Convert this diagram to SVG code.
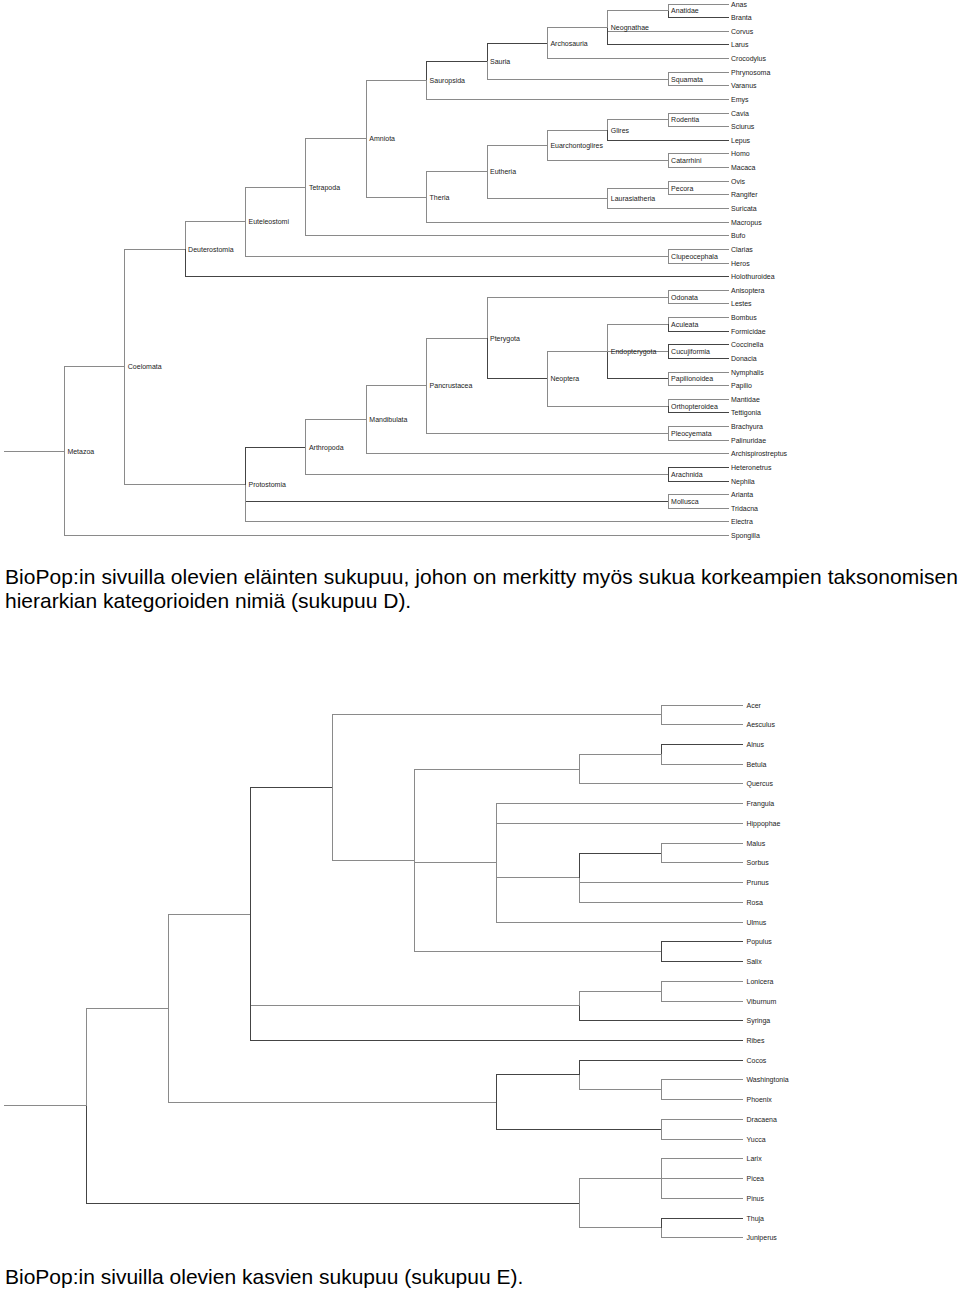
<svg xmlns="http://www.w3.org/2000/svg" width="960" height="1292" viewBox="0 0 960 1292">
<style>
.c path{fill:none;stroke:#8a8a8a;stroke-width:1;shape-rendering:crispEdges}
.c path.d{stroke:#444}
text{font-family:"Liberation Sans",Arial,sans-serif;fill:#222}
.n text{font-size:7px}
.cap{font-size:21px;fill:#000}
</style>
<rect width="960" height="1292" fill="#fff"/>
<g id="connectors" class="c">
<!-- top tree -->
<path d="M4 451.2H64.4"/>
<path d="M64.4 451.2V366.8H124.8"/>
<path d="M64.4 451.2V535.6H728.5"/>
<path d="M124.8 366.8V249.2H185.1"/>
<path d="M124.8 366.8V484.5H245.5"/>
<path d="M185.1 249.2V221.7H245.5"/>
<path class="d" d="M185.1 249.2V276.6H728.5"/>
<path d="M245.5 221.7V187.2H305.9"/>
<path d="M245.5 221.7V256.2H668.1"/>
<path d="M305.9 187.2V138.6H366.3"/>
<path d="M305.9 187.2V235.7H728.5"/>
<path d="M366.3 138.6V80.3H426.6"/>
<path d="M366.3 138.6V197H426.6"/>
<path class="d" d="M426.6 80.3V61.1H487"/>
<path d="M426.6 80.3V99.4H728.5"/>
<path class="d" d="M487 61.1V43.2H547.4"/>
<path d="M487 61.1V79H668.1"/>
<path d="M547.4 43.2V27.9H607.8"/>
<path d="M547.4 43.2V58.5H728.5"/>
<path d="M607.8 27.9V10.8H668.1"/>
<path d="M607.8 27.9V31.3H728.5"/>
<path class="d" d="M607.8 27.9V44.9H728.5"/>
<path d="M668.1 10.8V4H728.5"/>
<path class="d" d="M668.1 10.8V17.6H728.5"/>
<path d="M668.1 79V72.2H728.5"/>
<path d="M668.1 79V85.8H728.5"/>
<path d="M426.6 197V171.8H487"/>
<path d="M426.6 197V222.1H728.5"/>
<path d="M487 171.8V145.4H547.4"/>
<path d="M487 171.8V198.2H607.8"/>
<path d="M547.4 145.4V130.1H607.8"/>
<path d="M547.4 145.4V160.7H668.1"/>
<path d="M607.8 130.1V119.9H668.1"/>
<path class="d" d="M607.8 130.1V140.3H728.5"/>
<path d="M668.1 119.9V113H728.5"/>
<path d="M668.1 119.9V126.7H728.5"/>
<path d="M668.1 160.7V153.9H728.5"/>
<path d="M668.1 160.7V167.6H728.5"/>
<path d="M607.8 198.2V188H668.1"/>
<path d="M607.8 198.2V208.5H728.5"/>
<path d="M668.1 188V181.2H728.5"/>
<path d="M668.1 188V194.8H728.5"/>
<path d="M668.1 256.2V249.3H728.5"/>
<path d="M668.1 256.2V263H728.5"/>
<path class="d" d="M245.5 484.5V447H305.9"/>
<path class="d" d="M245.5 484.5V501.5H668.1"/>
<path d="M245.5 484.5V521.9H728.5"/>
<path d="M305.9 447V419.8H366.3"/>
<path d="M305.9 447V474.2H668.1"/>
<path d="M366.3 419.8V385.7H426.6"/>
<path d="M366.3 419.8V453.8H728.5"/>
<path d="M426.6 385.7V338H487"/>
<path d="M426.6 385.7V433.3H668.1"/>
<path d="M487 338V297H668.1"/>
<path class="d" d="M487 338V378.9H547.4"/>
<path d="M547.4 378.9V351.6H607.8"/>
<path d="M547.4 378.9V406.1H668.1"/>
<path d="M607.8 351.6V324.3H668.1"/>
<path d="M607.8 351.6H668.1"/>
<path class="d" d="M607.8 351.6V378.8H668.1"/>
<path d="M668.1 297V290.2H728.5"/>
<path d="M668.1 297V303.9H728.5"/>
<path d="M668.1 324.3V317.5H728.5"/>
<path class="d" d="M668.1 324.3V331.1H728.5"/>
<path class="d" d="M668.1 351.6V344.8H728.5"/>
<path class="d" d="M668.1 351.6V358.4H728.5"/>
<path d="M668.1 378.8V372H728.5"/>
<path d="M668.1 378.8V385.6H728.5"/>
<path d="M668.1 406.1V399.3H728.5"/>
<path class="d" d="M668.1 406.1V412.9H728.5"/>
<path d="M668.1 433.3V426.5H728.5"/>
<path d="M668.1 433.3V440.2H728.5"/>
<path class="d" d="M668.1 474.2V467.4H728.5"/>
<path class="d" d="M668.1 474.2V481.1H728.5"/>
<path d="M668.1 501.5V494.7H728.5"/>
<path d="M668.1 501.5V508.3H728.5"/>
<!-- bottom tree -->
<path d="M4 1105.6H86.1"/>
<path d="M86.1 1105.6V1008H168.3"/>
<path class="d" d="M86.1 1105.6V1203.2H579"/>
<path d="M168.3 1008V914H250.4"/>
<path d="M168.3 1008V1102H496.8"/>
<path class="d" d="M250.4 914V787.6H332.6"/>
<path d="M250.4 914V1005.9H579"/>
<path class="d" d="M250.4 914V1040.4H743.3"/>
<path d="M332.6 787.6V714.9H661.1"/>
<path d="M332.6 787.6V860.4H414.7"/>
<path d="M661.1 714.9V705H743.3"/>
<path d="M661.1 714.9V724.7H743.3"/>
<path d="M414.7 860.4V769.1H579"/>
<path d="M414.7 860.4V862.8H496.8"/>
<path d="M414.7 860.4V951.6H661.1"/>
<path d="M579 769.1V754.3H661.1"/>
<path d="M579 769.1V783.9H743.3"/>
<path class="d" d="M661.1 754.3V744.5H743.3"/>
<path d="M661.1 754.3V764.2H743.3"/>
<path d="M496.8 862.8V803.7H743.3"/>
<path d="M496.8 862.8V823.4H743.3"/>
<path d="M496.8 862.8V877.6H579"/>
<path d="M496.8 862.8V922H743.3"/>
<path class="d" d="M579 877.6V853H661.1"/>
<path d="M579 877.6V882.6H743.3"/>
<path d="M579 877.6V902.3H743.3"/>
<path d="M661.1 853V843.1H743.3"/>
<path d="M661.1 853V862.8H743.3"/>
<path class="d" d="M661.1 951.6V941.8H743.3"/>
<path class="d" d="M661.1 951.6V961.5H743.3"/>
<path d="M579 1005.9V991.1H661.1"/>
<path class="d" d="M579 1005.9V1020.7H743.3"/>
<path d="M661.1 991.1V981.2H743.3"/>
<path d="M661.1 991.1V1001H743.3"/>
<path class="d" d="M496.8 1102V1074.9H579"/>
<path class="d" d="M496.8 1102V1129.2H661.1"/>
<path class="d" d="M579 1074.9V1060.1H743.3"/>
<path d="M579 1074.9V1089.7H661.1"/>
<path d="M661.1 1089.7V1079.9H743.3"/>
<path d="M661.1 1089.7V1099.6H743.3"/>
<path d="M661.1 1129.2V1119.3H743.3"/>
<path d="M661.1 1129.2V1139.1H743.3"/>
<path d="M579 1203.2V1178.5H661.1"/>
<path d="M579 1203.2V1227.8H661.1"/>
<path d="M661.1 1178.5V1158.8H743.3"/>
<path d="M661.1 1178.5H743.3"/>
<path d="M661.1 1178.5V1198.2H743.3"/>
<path class="d" d="M661.1 1227.8V1218H743.3"/>
<path d="M661.1 1227.8V1237.7H743.3"/>
</g>
<g class="n">
<g id="Metazoa"><text x="67.4" y="453.7">Metazoa</text></g>
<g id="Coelomata"><text x="127.8" y="369.3">Coelomata</text></g>
<g id="Deuterostomia"><text x="188.1" y="251.7">Deuterostomia</text></g>
<g id="Protostomia"><text x="248.5" y="487">Protostomia</text></g>
<g id="Euteleostomi"><text x="248.5" y="224.2">Euteleostomi</text></g>
<g id="Tetrapoda"><text x="308.9" y="189.7">Tetrapoda</text></g>
<g id="Arthropoda"><text x="308.9" y="449.5">Arthropoda</text></g>
<g id="Amniota"><text x="369.3" y="141.1">Amniota</text></g>
<g id="Mandibulata"><text x="369.3" y="422.3">Mandibulata</text></g>
<g id="Sauropsida"><text x="429.6" y="82.8">Sauropsida</text></g>
<g id="Theria"><text x="429.6" y="199.5">Theria</text></g>
<g id="Pancrustacea"><text x="429.6" y="388.2">Pancrustacea</text></g>
<g id="Sauria"><text x="490" y="63.6">Sauria</text></g>
<g id="Eutheria"><text x="490" y="174.3">Eutheria</text></g>
<g id="Pterygota"><text x="490" y="340.5">Pterygota</text></g>
<g id="Archosauria"><text x="550.4" y="45.7">Archosauria</text></g>
<g id="Euarchontoglires"><text x="550.4" y="147.9">Euarchontoglires</text></g>
<g id="Neoptera"><text x="550.4" y="381.4">Neoptera</text></g>
<g id="Neognathae"><text x="610.8" y="30.4">Neognathae</text></g>
<g id="Glires"><text x="610.8" y="132.6">Glires</text></g>
<g id="Laurasiatheria"><text x="610.8" y="200.7">Laurasiatheria</text></g>
<g id="Endopterygota"><text x="610.8" y="354.1">Endopterygota</text></g>
<g id="Anatidae"><text x="671.1" y="13.3">Anatidae</text></g>
<g id="Squamata"><text x="671.1" y="81.5">Squamata</text></g>
<g id="Rodentia"><text x="671.1" y="122.4">Rodentia</text></g>
<g id="Catarrhini"><text x="671.1" y="163.2">Catarrhini</text></g>
<g id="Pecora"><text x="671.1" y="190.5">Pecora</text></g>
<g id="Clupeocephala"><text x="671.1" y="258.7">Clupeocephala</text></g>
<g id="Odonata"><text x="671.1" y="299.5">Odonata</text></g>
<g id="Aculeata"><text x="671.1" y="326.8">Aculeata</text></g>
<g id="Cucujiformia"><text x="671.1" y="354.1">Cucujiformia</text></g>
<g id="Papilionoidea"><text x="671.1" y="381.3">Papilionoidea</text></g>
<g id="Orthopteroidea"><text x="671.1" y="408.6">Orthopteroidea</text></g>
<g id="Pleocyemata"><text x="671.1" y="435.8">Pleocyemata</text></g>
<g id="Arachnida"><text x="671.1" y="476.7">Arachnida</text></g>
<g id="Mollusca"><text x="671.1" y="504">Mollusca</text></g>
<g id="Anas"><text x="731" y="6.5">Anas</text></g>
<g id="Branta"><text x="731" y="20.1">Branta</text></g>
<g id="Corvus"><text x="731" y="33.8">Corvus</text></g>
<g id="Larus"><text x="731" y="47.4">Larus</text></g>
<g id="Crocodylus"><text x="731" y="61">Crocodylus</text></g>
<g id="Phrynosoma"><text x="731" y="74.7">Phrynosoma</text></g>
<g id="Varanus"><text x="731" y="88.3">Varanus</text></g>
<g id="Emys"><text x="731" y="101.9">Emys</text></g>
<g id="Cavia"><text x="731" y="115.5">Cavia</text></g>
<g id="Sciurus"><text x="731" y="129.2">Sciurus</text></g>
<g id="Lepus"><text x="731" y="142.8">Lepus</text></g>
<g id="Homo"><text x="731" y="156.4">Homo</text></g>
<g id="Macaca"><text x="731" y="170.1">Macaca</text></g>
<g id="Ovis"><text x="731" y="183.7">Ovis</text></g>
<g id="Rangifer"><text x="731" y="197.3">Rangifer</text></g>
<g id="Suricata"><text x="731" y="211">Suricata</text></g>
<g id="Macropus"><text x="731" y="224.6">Macropus</text></g>
<g id="Bufo"><text x="731" y="238.2">Bufo</text></g>
<g id="Clarias"><text x="731" y="251.8">Clarias</text></g>
<g id="Heros"><text x="731" y="265.5">Heros</text></g>
<g id="Holothuroidea"><text x="731" y="279.1">Holothuroidea</text></g>
<g id="Anisoptera"><text x="731" y="292.7">Anisoptera</text></g>
<g id="Lestes"><text x="731" y="306.4">Lestes</text></g>
<g id="Bombus"><text x="731" y="320">Bombus</text></g>
<g id="Formicidae"><text x="731" y="333.6">Formicidae</text></g>
<g id="Coccinella"><text x="731" y="347.3">Coccinella</text></g>
<g id="Donacia"><text x="731" y="360.9">Donacia</text></g>
<g id="Nymphalis"><text x="731" y="374.5">Nymphalis</text></g>
<g id="Papilio"><text x="731" y="388.1">Papilio</text></g>
<g id="Mantidae"><text x="731" y="401.8">Mantidae</text></g>
<g id="Tettigonia"><text x="731" y="415.4">Tettigonia</text></g>
<g id="Brachyura"><text x="731" y="429">Brachyura</text></g>
<g id="Palinuridae"><text x="731" y="442.7">Palinuridae</text></g>
<g id="Archispirostreptus"><text x="731" y="456.3">Archispirostreptus</text></g>
<g id="Heteronetrus"><text x="731" y="469.9">Heteronetrus</text></g>
<g id="Nephila"><text x="731" y="483.6">Nephila</text></g>
<g id="Arianta"><text x="731" y="497.2">Arianta</text></g>
<g id="Tridacna"><text x="731" y="510.8">Tridacna</text></g>
<g id="Electra"><text x="731" y="524.4">Electra</text></g>
<g id="Spongilla"><text x="731" y="538.1">Spongilla</text></g>
<g id="Acer"><text x="746.5" y="707.5">Acer</text></g>
<g id="Aesculus"><text x="746.5" y="727.2">Aesculus</text></g>
<g id="Alnus"><text x="746.5" y="747">Alnus</text></g>
<g id="Betula"><text x="746.5" y="766.7">Betula</text></g>
<g id="Quercus"><text x="746.5" y="786.4">Quercus</text></g>
<g id="Frangula"><text x="746.5" y="806.2">Frangula</text></g>
<g id="Hippophae"><text x="746.5" y="825.9">Hippophae</text></g>
<g id="Malus"><text x="746.5" y="845.6">Malus</text></g>
<g id="Sorbus"><text x="746.5" y="865.3">Sorbus</text></g>
<g id="Prunus"><text x="746.5" y="885.1">Prunus</text></g>
<g id="Rosa"><text x="746.5" y="904.8">Rosa</text></g>
<g id="Ulmus"><text x="746.5" y="924.5">Ulmus</text></g>
<g id="Populus"><text x="746.5" y="944.3">Populus</text></g>
<g id="Salix"><text x="746.5" y="964">Salix</text></g>
<g id="Lonicera"><text x="746.5" y="983.7">Lonicera</text></g>
<g id="Viburnum"><text x="746.5" y="1003.5">Viburnum</text></g>
<g id="Syringa"><text x="746.5" y="1023.2">Syringa</text></g>
<g id="Ribes"><text x="746.5" y="1042.9">Ribes</text></g>
<g id="Cocos"><text x="746.5" y="1062.6">Cocos</text></g>
<g id="Washingtonia"><text x="746.5" y="1082.4">Washingtonia</text></g>
<g id="Phoenix"><text x="746.5" y="1102.1">Phoenix</text></g>
<g id="Dracaena"><text x="746.5" y="1121.8">Dracaena</text></g>
<g id="Yucca"><text x="746.5" y="1141.6">Yucca</text></g>
<g id="Larix"><text x="746.5" y="1161.3">Larix</text></g>
<g id="Picea"><text x="746.5" y="1181">Picea</text></g>
<g id="Pinus"><text x="746.5" y="1200.7">Pinus</text></g>
<g id="Thuja"><text x="746.5" y="1220.5">Thuja</text></g>
<g id="Juniperus"><text x="746.5" y="1240.2">Juniperus</text></g>
</g>
<g id="captions">
<text class="cap" x="5" y="584" textLength="953" lengthAdjust="spacing">BioPop:in sivuilla olevien eläinten sukupuu, johon on merkitty myös sukua korkeampien taksonomisen</text>
<text class="cap" x="5" y="608">hierarkian kategorioiden nimiä (sukupuu D).</text>
<text class="cap" x="5" y="1284">BioPop:in sivuilla olevien kasvien sukupuu (sukupuu E).</text>
</g>
</svg>
